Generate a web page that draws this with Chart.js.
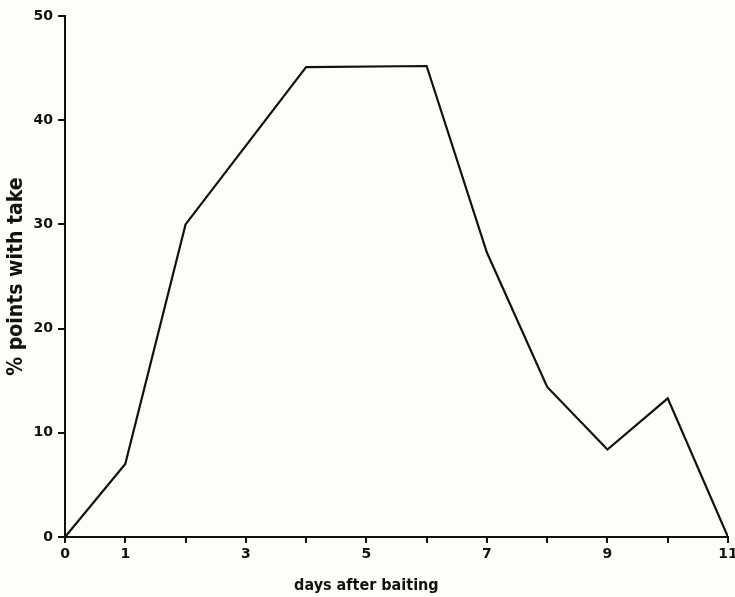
<!DOCTYPE html>
<html>
<head>
<meta charset="utf-8">
<script src="https://cdn.jsdelivr.net/npm/chart.js@4/dist/chart.umd.min.js"></script>
<style>
  html, body { margin: 0; padding: 0; background: #fefef8; }
  #wrap { width: 735px; height: 597px; }
</style>
</head>
<body>
<div id="wrap"><canvas id="c" width="735" height="597"></canvas></div>
<script>
// Days after baiting and the share of bait points taken on each day
const days = [0, 1, 2, 4, 6, 7, 8, 9, 10, 11];
const percentTaken = [0, 7, 30, 45.1, 45.2, 27.3, 14.4, 8.4, 13.3, 0];
const labelledDays = [0, 1, 3, 5, 7, 9, 11];
const yTicks = [0, 10, 20, 30, 40, 50];
const xTitle = 'days after baiting';
const yTitle = '% points with take';

const ink = '#111';
const fontFamily = '"DejaVu Sans", Verdana, sans-serif';
const titleFamily = '"DejaVu Sans Condensed", "DejaVu Sans", sans-serif';

// x-axis title, centred under day 5 of the axis
const xTitlePlugin = {
  id: 'xTitle',
  afterDraw(chart) {
    const { ctx, scales: { x } } = chart;
    ctx.save();
    ctx.fillStyle = ink;
    ctx.font = `bold 16px ${titleFamily}`;
    ctx.textAlign = 'center';
    ctx.textBaseline = 'alphabetic';
    ctx.fillText(xTitle, x.getPixelForValue(5), 590);
    ctx.restore();
  }
};

new Chart(document.getElementById('c'), {
  type: 'line',
  data: {
    datasets: [{
      data: days.map((d, i) => ({ x: d, y: percentTaken[i] })),
      borderColor: ink,
      borderWidth: 2.2,
      pointRadius: 0,
      tension: 0,
      fill: false
    }]
  },
  plugins: [xTitlePlugin],
  options: {
    responsive: false,
    animation: false,
    layout: { padding: { top: 16, right: 7, left: 0, bottom: 0 } },
    plugins: { legend: { display: false }, tooltip: { enabled: false } },
    scales: {
      x: {
        type: 'linear',
        min: 0, max: 11,
        afterFit: s => { s.height = 60; s.paddingLeft = 0; s.paddingRight = 0; },
        border: { display: true, color: ink, width: 2 },
        grid: { drawOnChartArea: false, drawTicks: true, tickLength: 6, color: ink, lineWidth: 2 },
        ticks: {
          stepSize: 1,
          autoSkip: false,
          maxRotation: 0,
          color: ink,
          padding: 3,
          font: { family: fontFamily, size: 14, weight: 'bold' },
          callback: v => labelledDays.includes(v) ? String(v) : ''
        }
      },
      y: {
        min: 0, max: 50,
        afterFit: s => { s.width = 65; s.paddingTop = 0; s.paddingBottom = 0; },
        afterBuildTicks: s => { s.ticks = yTicks.map(v => ({ value: v })); },
        border: { display: true, color: ink, width: 2 },
        grid: { drawOnChartArea: false, drawTicks: true, tickLength: 7, color: ink, lineWidth: 2 },
        ticks: {
          color: ink,
          padding: 5,
          font: { family: fontFamily, size: 14, weight: 'bold' }
        },
        title: {
          display: true,
          text: yTitle,
          color: ink,
          padding: { top: 4, bottom: 0 },
          font: { family: titleFamily, size: 21, weight: 'bold' }
        }
      }
    }
  }
});
</script>
</body>
</html>
